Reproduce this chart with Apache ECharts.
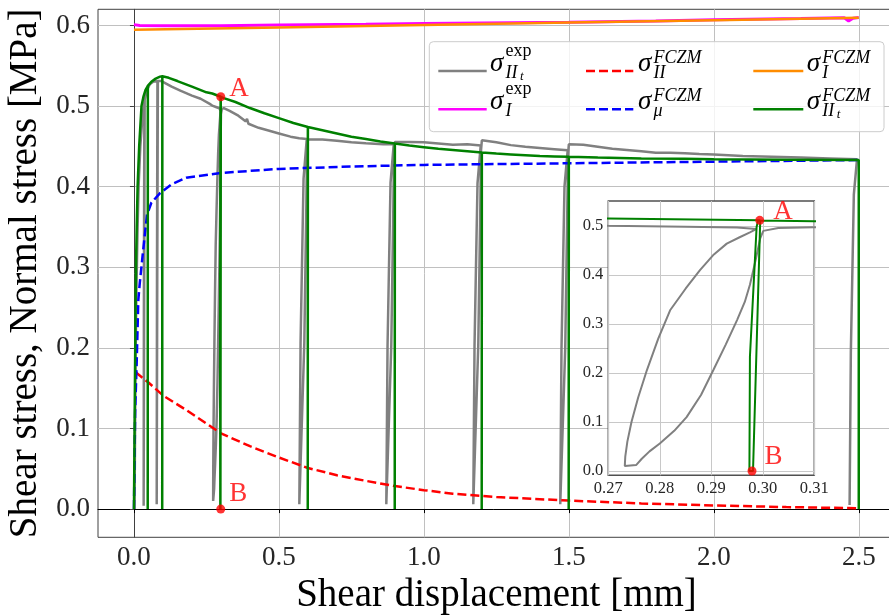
<!DOCTYPE html>
<html><head><meta charset="utf-8">
<script src="https://cdn.jsdelivr.net/npm/echarts@6/dist/echarts.min.js"></script>
<style>html,body{margin:0;padding:0;background:#fff}#c{width:889px;height:616px}</style>
</head><body><div id="c"></div>
<script>
// ---------- tick labels ----------
const xTicksMain = [0, 0.5, 1.0, 1.5, 2.0, 2.5];
const yTicksMain = [0, 0.1, 0.2, 0.3, 0.4, 0.5, 0.6];
const xTicksInset = [0.27, 0.28, 0.29, 0.30, 0.31];
const yTicksInset = [0, 0.1, 0.2, 0.3, 0.4, 0.5];

// ---------- series (shear displacement [mm], stress [MPa]) ----------
const sigmaIIt_exp = [
  [0.002,0],[0.005,0.16],[0.008,0.26],[0.012,0.34],[0.016,0.4],[0.022,0.45],[0.03,0.49],[0.036,0.505],
  [0.0345,0.3],[0.0335,0.004],[0.0345,0.004],[0.0355,0.3],[0.037,0.508],
  [0.045,0.52],[0.055,0.527],[0.066,0.53],[0.081,0.531],
  [0.0795,0.3],[0.0785,0.006],[0.0795,0.006],[0.0805,0.3],[0.0825,0.531],
  [0.095,0.531],[0.1,0.53],[0.13,0.524],[0.16,0.519],[0.2,0.513],[0.23,0.509],[0.26,0.503],
  [0.27,0.5006],[0.285,0.4985],[0.295,0.497],[0.2988,0.494],
  [0.2975,0.487],[0.2955,0.477],[0.293,0.464],[0.2905,0.442],[0.2878,0.41],[0.285,0.372],[0.282,0.328],[0.2797,0.27],[0.2775,0.206],[0.2758,0.15],[0.2745,0.1],[0.2737,0.06],[0.2733,0.03],[0.2732,0.01],
  [0.2754,0.012],[0.2765,0.025],[0.278,0.04],[0.28,0.056],[0.2828,0.082],[0.2852,0.11],[0.288,0.155],[0.2904,0.206],[0.2928,0.258],[0.295,0.308],[0.2965,0.345],[0.2975,0.38],[0.2986,0.43],[0.2995,0.475],[0.3001,0.49],
  [0.303,0.496],[0.31,0.4975],[0.33,0.494],[0.36,0.488],[0.385,0.481],[0.39,0.484],[0.395,0.478],
  [0.43,0.473],[0.47,0.469],[0.5,0.466],[0.54,0.462],[0.57,0.46],[0.596,0.459],
  [0.585,0.41],[0.5747,0.206],[0.5704,0.006],[0.5725,0.008],[0.5876,0.206],[0.5947,0.38],[0.5973,0.452],
  [0.6,0.4585],[0.65,0.4585],[0.7,0.457],[0.75,0.455],[0.8,0.4537],[0.86,0.4525],[0.896,0.4525],
  [0.885,0.405],[0.8747,0.203],[0.8704,0.006],[0.8725,0.008],[0.8876,0.203],[0.8947,0.375],[0.8973,0.447],
  [0.9,0.4555],[0.95,0.4555],[1.0,0.455],[1.05,0.4535],[1.1,0.452],[1.15,0.4525],[1.196,0.451],
  [1.185,0.404],[1.1747,0.203],[1.1704,0.006],[1.1725,0.008],[1.1876,0.203],[1.1947,0.375],[1.1973,0.446],
  [1.2,0.4575],[1.25,0.455],[1.3,0.4515],[1.35,0.4495],[1.4,0.448],[1.45,0.4465],[1.496,0.445],
  [1.485,0.40],[1.4747,0.2],[1.4704,0.006],[1.4725,0.008],[1.4876,0.2],[1.4947,0.372],[1.4973,0.44],
  [1.5,0.4525],[1.55,0.452],[1.6,0.4495],[1.65,0.447],[1.7,0.4455],[1.75,0.444],[1.8,0.442],[1.85,0.442],
  [1.9,0.4415],[1.95,0.4405],[2.0,0.44],[2.1,0.438],[2.2,0.437],[2.3,0.436],[2.4,0.435],[2.494,0.434],
  [2.483,0.39],[2.4727,0.195],[2.4684,0.005]
];
const sigmaI_exp = [
  [0,0.601],[0.02,0.6],[0.1,0.5995],[0.3,0.5995],[0.5,0.6005],[0.8,0.6015],[1.0,0.6025],[1.2,0.603],
  [1.5,0.6038],[1.8,0.6055],[2.0,0.607],[2.3,0.6085],[2.45,0.6095],[2.465,0.6055],[2.48,0.609],[2.5,0.6098]
];
const sigmaII_fczm = [
  [0.005,0.17],[0.05,0.157],[0.1,0.141],[0.18,0.123],[0.25,0.106],[0.3,0.094],[0.4,0.078],[0.5,0.064],
  [0.6,0.051],[0.7,0.042],[0.8,0.035],[0.9,0.0285],[1.0,0.0235],[1.1,0.019],[1.25,0.015],[1.5,0.0105],
  [1.75,0.007],[2.0,0.0045],[2.25,0.0025],[2.5,0.001]
];
const sigmaMu_fczm = [
  [0,0],[0.004,0.12],[0.009,0.176],[0.015,0.259],[0.02,0.28],[0.03,0.315],[0.038,0.342],[0.045,0.365],
  [0.06,0.38],[0.09,0.392],[0.13,0.403],[0.18,0.411],[0.3,0.417],[0.5,0.422],[0.75,0.425],[1.0,0.427],
  [1.5,0.429],[2.0,0.431],[2.5,0.433]
];
const sigmaI_fczm = [
  [0,0.5945],[0.5,0.5975],[1.0,0.6005],[1.5,0.6035],[2.0,0.6065],[2.5,0.6095]
];
const sigmaIIt_fczm = [
  [0,0],[0.003,0.14],[0.005,0.23],[0.007,0.3],[0.0095,0.35],[0.0126,0.4],[0.018,0.45],[0.026,0.5],
  [0.033,0.512],[0.04,0.52],[0.048,0.525],
  [0.0475,0],[0.047,0],[0.0478,0.525],
  [0.06,0.53],[0.075,0.534],[0.09,0.5365],[0.098,0.537],
  [0.0975,0],[0.097,0],[0.0978,0.537],
  [0.12,0.535],[0.15,0.531],[0.2,0.524],[0.25,0.517],[0.27,0.5155],[0.2995,0.5115],
  [0.2981,0],[0.2974,0],[0.2975,0.233],[0.2988,0.4986],[0.2991,0.5113],
  [0.31,0.5098],[0.35,0.505],[0.4,0.4975],[0.45,0.491],[0.5,0.485],[0.55,0.479],[0.6,0.474],
  [0.5995,0],[0.599,0],[0.5998,0.474],
  [0.65,0.47],[0.7,0.466],[0.75,0.462],[0.8,0.459],[0.85,0.456],[0.9,0.4535],
  [0.8995,0],[0.899,0],[0.8998,0.4535],
  [0.95,0.451],[1.0,0.449],[1.05,0.447],[1.1,0.4455],[1.15,0.444],[1.2,0.4425],
  [1.1995,0],[1.199,0],[1.1998,0.4425],
  [1.25,0.441],[1.3,0.44],[1.35,0.439],[1.4,0.438],[1.45,0.4375],[1.5,0.437],
  [1.4995,0],[1.499,0],[1.4998,0.437],
  [1.6,0.436],[1.75,0.435],[1.9,0.4345],[2.0,0.434],[2.25,0.4335],[2.5,0.433],[2.5,0]
];
const pointsMain = [['A', 0.2994, 0.5115], ['B', 0.2994, 0.0]];
const pointsInset = [['A', 0.2994, 0.5115], ['B', 0.2979, 0.0]];

// ---------- styling ----------
const SERIF = '"Liberation Serif", "Times New Roman", serif';
const C = {gray:'#808080', magenta:'#ff00ff', red:'#ff0000', blue:'#0000ff', orange:'#ff8c00', green:'#008000'};

function lineSeries(data, color, width, dashed, xi, z) {
  return {
    type:'line', data:data, xAxisIndex:xi, yAxisIndex:xi, showSymbol:false, symbol:'none',
    lineStyle:{color:color, width:width, type: dashed ? [9,4] : 'solid'},
    z:z, silent:true, animation:false, clip:true
  };
}
function pointSeries(pts, xi, z, labelCfg) {
  return {
    type:'scatter', xAxisIndex:xi, yAxisIndex:xi, symbolSize:9, z:z, animation:false,
    itemStyle:{color:'#ff0000'},
    data: pts.map(p => ({value:[p[1], p[2]], name:p[0],
      label:Object.assign({show:true, formatter:p[0], position:'right', color:'#ff0000',
        fontFamily:SERIF, fontSize:27}, labelCfg[p[0]])}))
  };
}

// ---------- legend (drawn as graphic) ----------
const legendEntries = [
  {col:0,row:0,color:C.gray,dash:false,sup:'exp',supItalic:false,sub:'II',subsub:'t'},
  {col:0,row:1,color:C.magenta,dash:false,sup:'exp',supItalic:false,sub:'I',subsub:''},
  {col:1,row:0,color:C.red,dash:true,sup:'FCZM',supItalic:true,sub:'II',subsub:''},
  {col:1,row:1,color:C.blue,dash:true,sup:'FCZM',supItalic:true,sub:'μ',subsub:''},
  {col:2,row:0,color:C.orange,dash:false,sup:'FCZM',supItalic:true,sub:'I',subsub:''},
  {col:2,row:1,color:C.green,dash:false,sup:'FCZM',supItalic:true,sub:'II',subsub:'t'}
];
const colX = [[438.3,486.7,490],[586,633.3,638],[753.3,803.3,806.7]];
const rowY = [71,109.3];
function txt(str, x, baseline, size, italic) {
  return {type:'text', z:50, style:{text:str, x:x, y:baseline - 0.3*size, verticalAlign:'middle', align:'left',
    font:(italic?'italic ':'') + size + 'px ' + SERIF, fill:'#000'}};
}
const graphics = [{
  type:'rect', z:40, shape:{x:429.3, y:41.7, width:454.7, height:90, r:4},
  style:{fill:'rgba(255,255,255,0.8)', stroke:'#cccccc', lineWidth:1}
}];
legendEntries.forEach(e => {
  const [x0,x1,sx] = colX[e.col];
  const y = rowY[e.row];
  graphics.push({type:'line', z:45, shape:{x1:x0,y1:y,x2:x1,y2:y},
    style:{stroke:e.color, lineWidth:2.5, lineDash: e.dash ? [9,4] : null}});
  graphics.push(txt('σ', sx, y + 0.7, 27, true));
  const supBase = e.supItalic ? y - 7.7 : y - 14.3;
  graphics.push(txt(e.sup, sx + 15.5, supBase, 18, e.supItalic));
  graphics.push(txt(e.sub, sx + 15.5, y + 7.5, 18, true));
  if (e.subsub) graphics.push(txt(e.subsub, sx + 15.5 + 14.5, y + 9.5, 13, true));
});

const chart = echarts.init(document.getElementById('c'), null, {renderer:'canvas'});
chart.setOption({
  animation:false,
  backgroundColor:'#ffffff',
  grid:[
    {left:98, top:9.3, width:797, height:528, show:true, borderColor:'#404040', borderWidth:1, backgroundColor:'transparent', z:0,
     containLabel:false, outerBoundsMode:'none'},
    {left:608.3, top:201, width:206, height:274.3, show:true, borderColor:'#505050', borderWidth:1.5, backgroundColor:'#ffffff', z:10,
     containLabel:false, outerBoundsMode:'none'}
  ],
  xAxis:[
    {type:'value', gridIndex:0, min:-0.124, max:2.625,
     name:'Shear displacement [mm]', nameLocation:'middle', nameGap:38,
     nameTextStyle:{fontFamily:SERIF, fontSize:39, color:'#000'},
     axisLine:{show:true, lineStyle:{color:'#000', width:1}},
     axisTick:{show:true, length:4, customValues:xTicksMain, lineStyle:{color:'#000'}},
     axisLabel:{customValues:xTicksMain, formatter:v => v.toFixed(1), fontFamily:SERIF, fontSize:27, color:'#262626', margin:7},
     splitLine:{show:true, lineStyle:{color:'#c0c0c0', width:1}}},
    {type:'value', gridIndex:1, min:0.27, max:0.31, z:11,
     axisLine:{show:false},
     axisTick:{show:false, customValues:xTicksInset},
     axisLabel:{customValues:xTicksInset, formatter:v => v.toFixed(2), fontFamily:SERIF, fontSize:16.5, color:'#262626', margin:5},
     splitLine:{show:true, lineStyle:{color:'#c8c8c8', width:1}}}
  ],
  yAxis:[
    {type:'value', gridIndex:0, min:-0.035, max:0.62,
     name:'Shear stress, Normal stress [MPa]', nameLocation:'middle', nameGap:52,
     nameTextStyle:{fontFamily:SERIF, fontSize:39, color:'#000'},
     axisLine:{show:true, lineStyle:{color:'#404040', width:1}},
     axisTick:{show:true, length:4, customValues:yTicksMain, lineStyle:{color:'#404040'}},
     axisLabel:{customValues:yTicksMain, formatter:v => v.toFixed(1), fontFamily:SERIF, fontSize:27, color:'#262626', margin:8},
     splitLine:{show:true, lineStyle:{color:'#c0c0c0', width:1}}},
    {type:'value', gridIndex:1, min:-0.0088, max:0.551, z:11,
     axisLine:{show:false},
     axisTick:{show:false, customValues:yTicksInset},
     axisLabel:{customValues:yTicksInset, formatter:v => v.toFixed(1), fontFamily:SERIF, fontSize:16.5, color:'#262626', margin:5},
     splitLine:{show:true, lineStyle:{color:'#c8c8c8', width:1}}}
  ],
  series:[
    lineSeries(sigmaIIt_exp, C.gray, 2.5, false, 0, 2),
    lineSeries(sigmaI_exp, C.magenta, 3, false, 0, 3),
    lineSeries(sigmaII_fczm, C.red, 2.5, true, 0, 4),
    lineSeries(sigmaMu_fczm, C.blue, 2.5, true, 0, 5),
    lineSeries(sigmaI_fczm, C.orange, 2.5, false, 0, 6),
    lineSeries(sigmaIIt_fczm, C.green, 2.5, false, 0, 7),
    pointSeries(pointsMain, 0, 8, {A:{offset:[0,-8], distance:4}, B:{offset:[0,-15], distance:4}}),
    lineSeries(sigmaIIt_exp, C.gray, 2, false, 1, 12),
    lineSeries(sigmaIIt_fczm, C.green, 2, false, 1, 13),
    pointSeries(pointsInset, 1, 14, {A:{offset:[4,-8], distance:5}, B:{offset:[3,-14], distance:5}})
  ],
  graphic:graphics
});
</script></body></html>
